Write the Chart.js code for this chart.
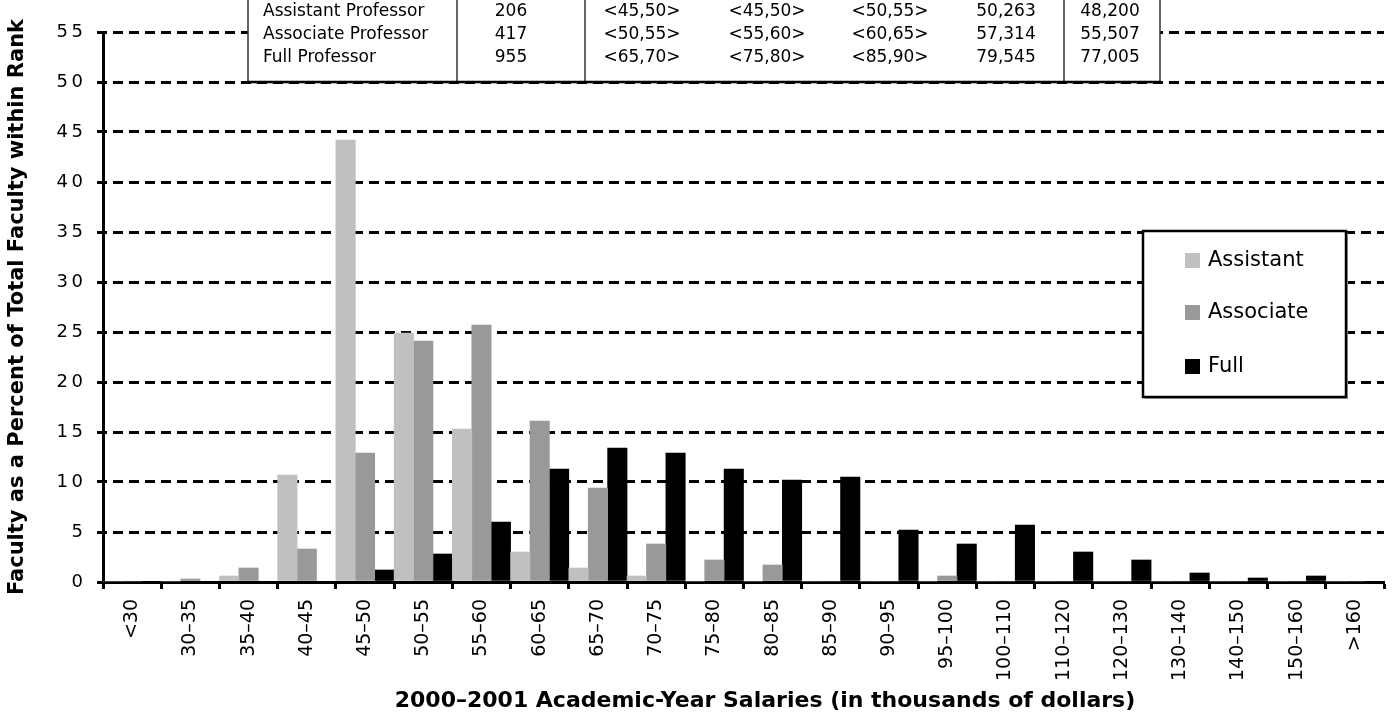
<!DOCTYPE html>
<html>
<head>
<meta charset="utf-8">
<script src="https://cdn.jsdelivr.net/npm/chart.js@4.4.0/dist/chart.umd.min.js"></script>
<style>
  html, body { margin: 0; padding: 0; background: #fff; }
  #chart { display: block; }
</style>
</head>
<body>
<canvas id="chart" width="1394" height="720"></canvas>
<script>
// salary bands (x axis)
const categories = ['<30', '30–35', '35–40', '40–45', '45–50', '50–55', '55–60', '60–65', '65–70',
  '70–75', '75–80', '80–85', '85–90', '90–95', '95–100', '100–110', '110–120', '120–130',
  '130–140', '140–150', '150–160', '>160'];

// percent of faculty within each rank
const assistant = [0, 0, 0.6, 10.7, 44.2, 24.9, 15.3, 3.0, 1.4, 0.6, 0, 0, 0, 0, 0, 0, 0, 0, 0, 0, 0, 0];
const associate = [0, 0.3, 1.4, 3.3, 12.9, 24.1, 25.7, 16.1, 9.4, 3.8, 2.2, 1.7, 0, 0, 0.6, 0, 0, 0, 0, 0, 0, 0];
const full = [0, 0, 0, 0, 1.2, 2.8, 6.0, 11.3, 13.4, 12.9, 11.3, 10.2, 10.5, 5.2, 3.8, 5.7, 3.0, 2.2, 0.9, 0.4, 0.6, 0];

const seriesLabels = ['Assistant', 'Associate', 'Full'];
const seriesColors = ['#c0c0c0', '#999999', '#000000'];

const xTitle = '2000–2001 Academic-Year Salaries (in thousands of dollars)';
const yTitle = 'Faculty as a Percent of Total Faculty within Rank';

// summary table rows (top of the chart, header rows are cut off)
const tableRanks = ['Assistant Professor', 'Associate Professor', 'Full Professor'];
const tableCounts = ['206', '417', '955'];
const tableQ1 = ['<45,50>', '<50,55>', '<65,70>'];
const tableMedian = ['<45,50>', '<55,60>', '<75,80>'];
const tableQ3 = ['<50,55>', '<60,65>', '<85,90>'];
const tableMean = ['50,263', '57,314', '79,545'];
const tableAdjMean = ['48,200', '55,507', '77,005'];

const FONT = 'DejaVu Sans';

// white background for the whole canvas
const bgPlugin = {
  id: 'bg',
  beforeDraw(chart) {
    const ctx = chart.ctx;
    ctx.save();
    ctx.fillStyle = '#fff';
    ctx.fillRect(0, 0, chart.width, chart.height);
    ctx.restore();
  }
};

// x axis title, sits a little right of the plot centre in the original
const xTitlePlugin = {
  id: 'xTitle',
  afterDraw(chart) {
    const ctx = chart.ctx;
    ctx.save();
    ctx.fillStyle = '#000';
    ctx.font = 'bold 22px "' + FONT + '"';
    ctx.textAlign = 'center';
    ctx.textBaseline = 'middle';
    ctx.fillText(xTitle, 765, 701);
    ctx.restore();
  }
};

// table overlaid at the top
const tablePlugin = {
  id: 'summaryTable',
  afterDraw(chart) {
    const ctx = chart.ctx;
    const left = 248, right = 1160, bottom = 82;
    const dividers = [457, 585, 1064];
    const rowY = [12, 35, 58];
    ctx.save();
    ctx.fillStyle = '#fff';
    ctx.fillRect(left, -2, right - left, bottom + 2);
    ctx.strokeStyle = '#333';
    ctx.lineWidth = 1.5;
    ctx.beginPath();
    [left, ...dividers, right].forEach(x => {
      ctx.moveTo(x, -2);
      ctx.lineTo(x, bottom);
    });
    ctx.stroke();
    ctx.strokeStyle = '#000';
    ctx.lineWidth = 2.5;
    ctx.beginPath();
    ctx.moveTo(left - 1, bottom);
    ctx.lineTo(right + 1, bottom);
    ctx.stroke();

    ctx.fillStyle = '#000';
    ctx.font = '17px "' + FONT + '"';
    ctx.textBaseline = 'middle';
    const cols = [tableCounts, tableQ1, tableMedian, tableQ3, tableMean, tableAdjMean];
    const colX = [511, 642, 767, 890, 1006, 1110];
    tableRanks.forEach((name, i) => {
      ctx.textAlign = 'left';
      ctx.fillText(name, 263, rowY[i]);
      ctx.textAlign = 'center';
      cols.forEach((col, j) => ctx.fillText(col[i], colX[j], rowY[i]));
    });
    ctx.restore();
  }
};

// boxed legend inside the plot
const legendBoxPlugin = {
  id: 'legendBox',
  afterDraw(chart) {
    const ctx = chart.ctx;
    const x = 1143, y = 231, w = 203, h = 166;
    ctx.save();
    ctx.fillStyle = '#aaa';
    ctx.fillRect(x + 2, y + 2, w, h);
    ctx.fillStyle = '#fff';
    ctx.fillRect(x, y, w, h);
    ctx.strokeStyle = '#000';
    ctx.lineWidth = 2.5;
    ctx.strokeRect(x, y, w, h);

    ctx.font = '21px "' + FONT + '"';
    ctx.textAlign = 'left';
    ctx.textBaseline = 'middle';
    const rows = [260, 312, 366];
    chart.data.datasets.forEach((ds, i) => {
      ctx.fillStyle = ds.backgroundColor;
      ctx.fillRect(1185, rows[i] - 7, 15, 15);
      ctx.fillStyle = '#000';
      ctx.fillText(ds.label, 1208, rows[i] + 1);
    });
    ctx.restore();
  }
};

function buildChart() {
  const ctx = document.getElementById('chart').getContext('2d');
  const data = [assistant, associate, full];

  new Chart(ctx, {
    type: 'bar',
    data: {
      labels: categories,
      datasets: seriesLabels.map((label, i) => ({
        label: label,
        data: data[i],
        backgroundColor: seriesColors[i],
        borderWidth: 0,
        categoryPercentage: 1.0,
        barPercentage: 1.0
      }))
    },
    options: {
      responsive: false,
      devicePixelRatio: 1,
      animation: false,
      layout: { padding: { top: 32, right: 10, left: 0, bottom: 0 } },
      plugins: {
        legend: { display: false },
        tooltip: { enabled: false }
      },
      scales: {
        x: {
          grid: {
            display: true,
            drawOnChartArea: false,
            drawTicks: true,
            offset: true,
            tickLength: 7,
            tickWidth: 3,
            tickColor: '#000'
          },
          border: { display: true, color: '#000', width: 3 },
          ticks: {
            autoSkip: false,
            maxRotation: 90,
            minRotation: 90,
            padding: 10,
            color: '#000',
            font: { family: FONT, size: 19 }
          },
          afterFit(scale) { scale.height = 138; }
        },
        y: {
          min: 0,
          max: 55,
          ticks: {
            stepSize: 5,
            padding: 14,
            color: '#000',
            font: { family: FONT, size: 18 },
            callback: v => String(v).split('').join('\u2009')
          },
          grid: {
            color: '#000',
            lineWidth: 3,
            tickLength: 6,
            tickWidth: 3,
            tickColor: '#000',
            tickBorderDash: []
          },
          border: { display: true, color: '#000', width: 3, dash: [10, 6], dashOffset: -8 },
          title: {
            display: true,
            text: yTitle,
            color: '#000',
            font: { family: FONT, size: 21, weight: 'bold' },
            padding: { top: 5, bottom: 0 }
          },
          afterFit(scale) { scale.width = 103; }
        }
      }
    },
    plugins: [bgPlugin, tablePlugin, legendBoxPlugin, xTitlePlugin]
  });
}

window.onload = buildChart;
</script>
</body>
</html>
